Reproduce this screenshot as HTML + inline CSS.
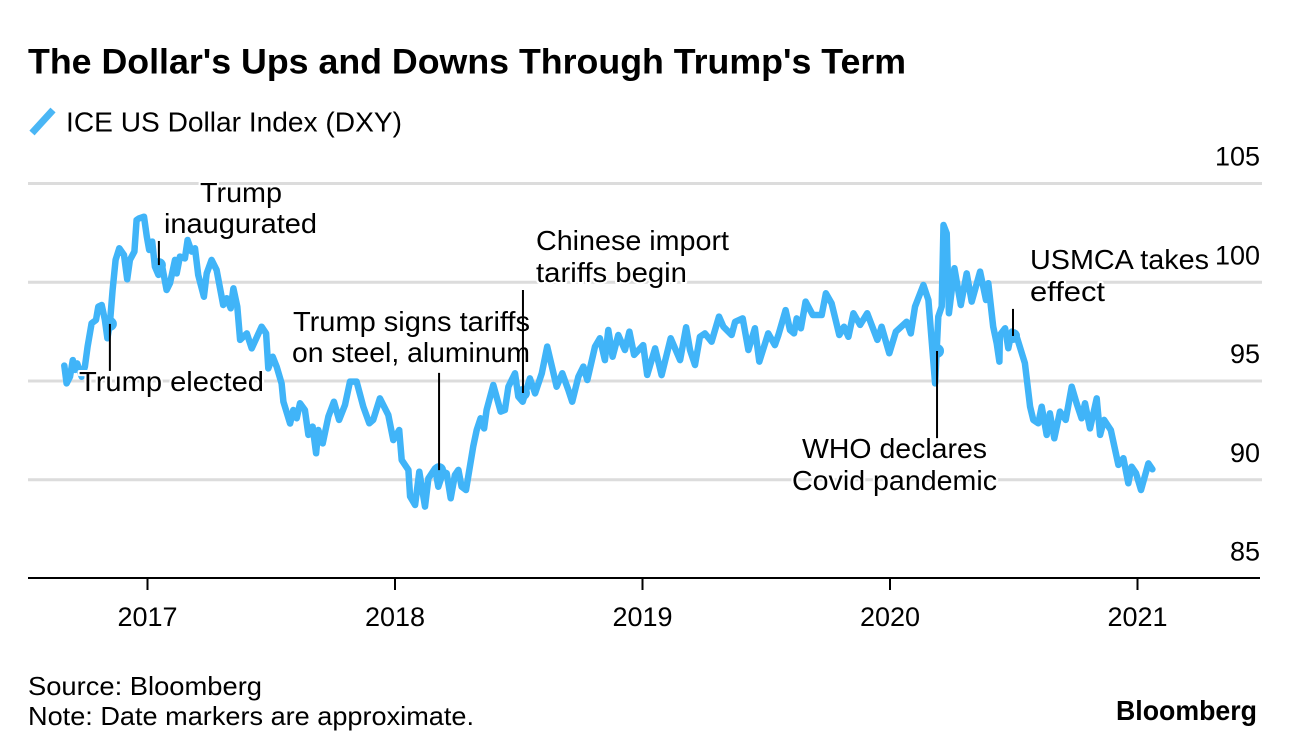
<!DOCTYPE html>
<html lang="en">
<head>
<meta charset="utf-8">
<title>The Dollar's Ups and Downs Through Trump's Term</title>
<style>
html,body{margin:0;padding:0;background:#fff;}
svg{display:block;font-family:"Liberation Sans",Arial,sans-serif;fill:#000;}
.ann{font-size:28px;paint-order:stroke;stroke:#fff;stroke-width:4px;stroke-linejoin:round;}
.tick{font-size:27px;}
.foot{font-size:26px;}
</style>
</head>
<body>
<svg id="chart" xmlns="http://www.w3.org/2000/svg" width="1296" height="756" viewBox="0 0 1296 756">
  <text x="28" y="73.5" font-size="35" font-weight="700" textLength="878" lengthAdjust="spacingAndGlyphs">The Dollar's Ups and Downs Through Trump's Term</text>
  <line x1="32" y1="133" x2="53" y2="110" stroke="#4ab6f5" stroke-width="7"/>
  <text x="66" y="131.5" font-size="27.5" textLength="336" lengthAdjust="spacingAndGlyphs">ICE US Dollar Index (DXY)</text>
  <g id="grid"></g>
  <g id="series"></g>
  <g id="axis"></g>
  <g id="yLabels"></g>
  <g>
    <text class="ann" x="200" y="202" textLength="82" lengthAdjust="spacingAndGlyphs">Trump</text>
    <text class="ann" x="164" y="233" textLength="153" lengthAdjust="spacingAndGlyphs">inaugurated</text>
    <text class="ann" x="79" y="391" textLength="185" lengthAdjust="spacingAndGlyphs">Trump elected</text>
    <text class="ann" x="293" y="331" textLength="237" lengthAdjust="spacingAndGlyphs">Trump signs tariffs</text>
    <text class="ann" x="292" y="362" textLength="238" lengthAdjust="spacingAndGlyphs">on steel, aluminum</text>
    <text class="ann" x="536" y="250" textLength="193" lengthAdjust="spacingAndGlyphs">Chinese import</text>
    <text class="ann" x="536" y="282" textLength="151" lengthAdjust="spacingAndGlyphs">tariffs begin</text>
    <text class="ann" x="802" y="458" textLength="185" lengthAdjust="spacingAndGlyphs">WHO declares</text>
    <text class="ann" x="792" y="490" textLength="205" lengthAdjust="spacingAndGlyphs">Covid pandemic</text>
    <text class="ann" x="1030" y="269" textLength="179" lengthAdjust="spacingAndGlyphs">USMCA takes</text>
    <text class="ann" x="1030" y="301" textLength="75" lengthAdjust="spacingAndGlyphs">effect</text>
  </g>
  <g id="leaders"></g>
  <text class="foot" x="28" y="695" textLength="234" lengthAdjust="spacingAndGlyphs">Source: Bloomberg</text>
  <text class="foot" x="28" y="725" textLength="446" lengthAdjust="spacingAndGlyphs">Note: Date markers are approximate.</text>
  <text x="1116" y="720" font-size="28" font-weight="700" textLength="141" lengthAdjust="spacingAndGlyphs">Bloomberg</text>
</svg>
<script>
const dates = [2016.662,2016.671,2016.685,2016.696,2016.705,2016.714,2016.732,2016.745,2016.756,2016.772,2016.790,2016.799,2016.813,2016.826,2016.836,2016.846,2016.857,2016.869,2016.884,2016.903,2016.916,2016.927,2016.945,2016.954,2016.965,2016.984,2016.995,2017.005,2017.017,2017.028,2017.042,2017.055,2017.075,2017.089,2017.109,2017.116,2017.129,2017.149,2017.160,2017.176,2017.190,2017.203,2017.226,2017.237,2017.257,2017.277,2017.304,2017.318,2017.334,2017.345,2017.361,2017.372,2017.399,2017.419,2017.459,2017.477,2017.486,2017.504,2017.520,2017.540,2017.547,2017.574,2017.587,2017.601,2017.614,2017.634,2017.648,2017.665,2017.679,2017.688,2017.706,2017.729,2017.751,2017.772,2017.796,2017.816,2017.843,2017.870,2017.894,2017.910,2017.937,2017.971,2017.991,2018.015,2018.025,2018.052,2018.059,2018.079,2018.096,2018.119,2018.133,2018.160,2018.173,2018.193,2018.207,2018.223,2018.240,2018.254,2018.267,2018.285,2018.314,2018.328,2018.344,2018.358,2018.368,2018.395,2018.425,2018.442,2018.456,2018.483,2018.496,2018.514,2018.543,2018.564,2018.591,2018.613,2018.635,2018.651,2018.674,2018.698,2018.714,2018.739,2018.759,2018.775,2018.806,2018.826,2018.846,2018.860,2018.877,2018.900,2018.927,2018.945,2018.964,2019.001,2019.017,2019.049,2019.075,2019.112,2019.150,2019.174,2019.190,2019.210,2019.230,2019.250,2019.277,2019.307,2019.325,2019.358,2019.372,2019.403,2019.426,2019.452,2019.470,2019.506,2019.533,2019.547,2019.576,2019.594,2019.610,2019.621,2019.638,2019.657,2019.686,2019.722,2019.739,2019.762,2019.793,2019.812,2019.830,2019.850,2019.877,2019.906,2019.947,2019.964,2019.995,2020.022,2020.065,2020.082,2020.099,2020.133,2020.153,2020.180,2020.193,2020.207,2020.214,2020.227,2020.236,2020.258,2020.284,2020.308,2020.328,2020.362,2020.386,2020.395,2020.415,2020.429,2020.440,2020.442,2020.463,2020.476,2020.490,2020.512,2020.543,2020.564,2020.577,2020.597,2020.611,2020.631,2020.644,2020.662,2020.685,2020.708,2020.732,2020.752,2020.772,2020.786,2020.806,2020.833,2020.847,2020.863,2020.890,2020.921,2020.941,2020.961,2020.974,2020.992,2021.012,2021.042,2021.058];
const dxyValues = [95.78,94.88,95.22,96.06,95.56,95.89,95.22,95.73,96.74,97.92,98.09,98.76,98.85,98.09,97.16,97.92,99.61,101.13,101.72,101.38,100.15,101.13,101.55,103.15,103.24,103.32,102.31,101.64,102.06,100.79,100.37,100.96,99.61,99.95,101.13,100.45,101.30,101.21,102.14,101.55,101.72,100.37,99.27,100.45,101.13,100.62,98.85,99.19,98.68,99.69,98.76,97.08,97.41,96.65,97.75,97.41,95.64,96.23,95.72,94.88,93.95,92.85,93.53,93.11,93.87,93.53,92.27,92.69,91.34,92.52,91.84,93.20,93.95,93.03,93.79,94.97,94.97,93.70,92.86,93.03,94.12,93.28,92.01,92.52,91.00,90.50,89.15,88.72,90.41,88.64,90.07,90.58,89.65,90.41,90.33,89.06,90.24,90.50,89.65,89.48,91.68,92.52,93.11,92.60,93.53,94.80,93.45,93.53,94.71,95.39,94.21,93.95,95.13,94.37,95.39,96.74,95.56,94.71,95.39,94.55,93.95,95.22,95.73,95.05,96.74,97.16,96.06,97.58,96.23,97.33,96.57,97.50,96.32,96.82,95.31,96.65,95.30,97.16,96.06,97.72,96.57,95.81,97.24,97.41,96.99,98.26,97.75,97.33,98.00,98.17,96.57,97.67,95.98,97.41,96.82,97.33,98.59,97.58,97.41,98.17,97.67,99.02,98.34,98.34,99.44,98.93,97.33,97.75,97.24,98.43,97.84,98.43,97.08,97.75,96.40,97.50,98.00,97.41,98.76,99.86,99.10,94.88,98.26,98.77,102.90,102.48,98.43,100.71,98.85,100.45,99.02,100.54,99.10,99.95,97.75,96.91,95.98,97.33,97.67,96.66,97.50,97.16,95.90,93.70,93.03,92.86,93.70,92.27,93.36,92.10,93.45,93.03,94.71,93.87,93.11,93.87,92.60,94.12,92.27,93.03,92.52,90.75,91.09,89.82,90.66,90.33,89.48,90.83,90.53];
const yTicks = [105,100,95,90,85];
const gridTicks = [105,100,95,90];
const yearTicks = [2017,2018,2019,2020,2021];
const eventDates = [2016.846,2017.044,2018.176,2018.515,2020.188,2020.495];
const eventValues = [97.89,100.87,90.49,94.39,96.52,97.28];
const leaderEndValues = [95.51,102.09,95.41,99.61,92.11,98.65];

const NS = 'http://www.w3.org/2000/svg';
const xScale = function (year) { return 148 + (year - 2017) * 247.5; };
const yScale = function (value) { return 183.5 + (105 - value) * 19.75; };
const lineColor = '#40b4f8';

const gridGroup = document.getElementById('grid');
gridTicks.forEach(function (tick) {
  const el = document.createElementNS(NS, 'line');
  
  
  el.setAttribute('x1', 28);
  el.setAttribute('x2', 1262);
  el.setAttribute('y1', yScale(tick));
  el.setAttribute('y2', yScale(tick));
  el.setAttribute('stroke', '#dcdcdc');
  el.setAttribute('stroke-width', 3);
  gridGroup.appendChild(el);
});

const seriesGroup = document.getElementById('series');
const seriesLine = document.createElementNS(NS, 'polyline');


seriesLine.setAttribute('points', dates.map(function (d, i) {
  return xScale(d).toFixed(1) + ',' + yScale(dxyValues[i]).toFixed(1);
}).join(' '));
seriesLine.setAttribute('fill', 'none');
seriesLine.setAttribute('stroke', lineColor);
seriesLine.setAttribute('stroke-width', 6.5);
seriesLine.setAttribute('stroke-linejoin', 'round');
seriesLine.setAttribute('stroke-linecap', 'round');
seriesGroup.appendChild(seriesLine);

eventDates.forEach(function (d, i) {
  const dot = document.createElementNS(NS, 'circle');
  
  
  dot.setAttribute('cx', xScale(d));
  dot.setAttribute('cy', yScale(eventValues[i]));
  dot.setAttribute('r', 7);
  dot.setAttribute('fill', lineColor);
  seriesGroup.appendChild(dot);
});

const leaderGroup = document.getElementById('leaders');
eventDates.forEach(function (d, i) {
  const leader = document.createElementNS(NS, 'line');
  
  
  leader.setAttribute('x1', xScale(d));
  leader.setAttribute('x2', xScale(d));
  leader.setAttribute('y1', yScale(eventValues[i]));
  leader.setAttribute('y2', yScale(leaderEndValues[i]));
  leader.setAttribute('stroke', '#000');
  leader.setAttribute('stroke-width', 2);
  leaderGroup.appendChild(leader);
});

const axisGroup = document.getElementById('axis');
const axisLine = document.createElementNS(NS, 'line');


axisLine.setAttribute('x1', 28);
axisLine.setAttribute('x2', 1260);
axisLine.setAttribute('y1', 578);
axisLine.setAttribute('y2', 578);
axisLine.setAttribute('stroke', '#000');
axisLine.setAttribute('stroke-width', 2);
axisGroup.appendChild(axisLine);

yearTicks.forEach(function (year) {
  const tick = document.createElementNS(NS, 'line');
  
  
  tick.setAttribute('x1', xScale(year) - 0.5);
  tick.setAttribute('x2', xScale(year) - 0.5);
  tick.setAttribute('y1', 578);
  tick.setAttribute('y2', 590);
  tick.setAttribute('stroke', '#000');
  tick.setAttribute('stroke-width', 2);
  axisGroup.appendChild(tick);
  const label = document.createElementNS(NS, 'text');
  
  
  label.setAttribute('class', 'tick');
  label.setAttribute('x', xScale(year) - 0.5);
  label.setAttribute('y', 626);
  label.setAttribute('text-anchor', 'middle');
  label.textContent = String(year);
  axisGroup.appendChild(label);
});

const yLabelGroup = document.getElementById('yLabels');
yTicks.forEach(function (tick) {
  const label = document.createElementNS(NS, 'text');
  
  
  label.setAttribute('class', 'tick');
  label.setAttribute('x', 1260);
  label.setAttribute('y', yScale(tick) - 18);
  label.setAttribute('text-anchor', 'end');
  label.textContent = String(tick);
  yLabelGroup.appendChild(label);
});
</script>
</body>
</html>
